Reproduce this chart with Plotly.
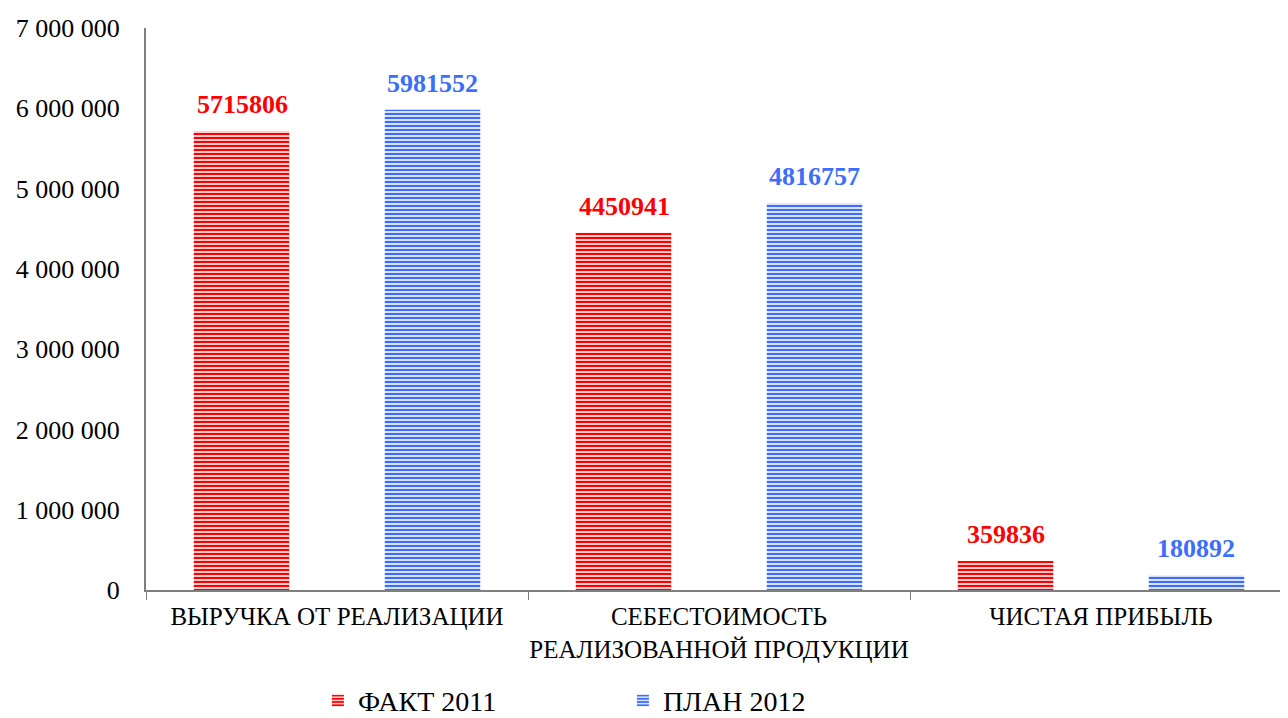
import plotly.graph_objects as go

categories = ["ВЫРУЧКА ОТ РЕАЛИЗАЦИИ",
              "СЕБЕСТОИМОСТЬ<br>РЕАЛИЗОВАННОЙ ПРОДУКЦИИ",
              "ЧИСТАЯ ПРИБЫЛЬ"]
fact_2011 = [5715806, 4450941, 359836]
plan_2012 = [5981552, 4816757, 180892]
series_names = ["ФАКТ 2011", "ПЛАН 2012"]
y_ticks = [0, 1000000, 2000000, 3000000, 4000000, 5000000, 6000000, 7000000]

RED = "#FF0000"
BLUE = "#3D6DFF"
FONT = "Liberation Serif"

fig = go.Figure()
series = [(series_names[0], fact_2011, RED, -95), (series_names[1], plan_2012, BLUE, 95)]
for name, vals, col, shift in series:
    fig.add_trace(go.Bar(
        x=categories, y=vals, name=name,
        marker=dict(
            color=col,
            line=dict(width=0),
            pattern=dict(shape="-", fgcolor=col, bgcolor="white", size=4,
                         solidity=0.6, fillmode="replace"),
        ),
    ))
    for c, v in zip(categories, vals):
        fig.add_annotation(
            x=c, y=v, xref="x", yref="y", text=str(v), showarrow=False,
            xanchor="center", yanchor="bottom", xshift=shift, yshift=10,
            font=dict(family=FONT, size=26, color=col, weight="bold"),
        )

fig.update_layout(
    width=1288, height=718,
    margin=dict(l=138, r=4, t=20, b=136, autoexpand=False),
    paper_bgcolor="white", plot_bgcolor="white",
    barmode="group", bargap=0.0, bargroupgap=0.5,
    separators=", ",
    font=dict(family=FONT, size=25, color="black"),
    showlegend=True,
    legend=dict(orientation="h", x=0.15, xanchor="left", y=-0.197, yanchor="middle",
                font=dict(family=FONT, size=28, color="black"),
                itemwidth=30, entrywidth=260, entrywidthmode="pixels",
                bgcolor="rgba(0,0,0,0)"),
    xaxis=dict(
        automargin=False,
        tickangle=0,
        showline=True, linecolor="#7F7F7F", linewidth=2,
        ticks="outside", ticklen=8, tickcolor="#7F7F7F", tickwidth=1,
        tickson="boundaries",
        ticklabelstandoff=3,
        tickfont=dict(family=FONT, size=25, color="black"),
        showgrid=False,
    ),
    yaxis=dict(
        automargin=False,
        range=[0, 7000000],
        tickvals=y_ticks,
        tickformat=",d",
        showline=True, linecolor="#7F7F7F", linewidth=2,
        ticks="", showgrid=False, zeroline=False,
        ticklabelstandoff=19,
        tickfont=dict(family=FONT, size=26, color="black"),
    ),
)

fig.write_html("out.html")
